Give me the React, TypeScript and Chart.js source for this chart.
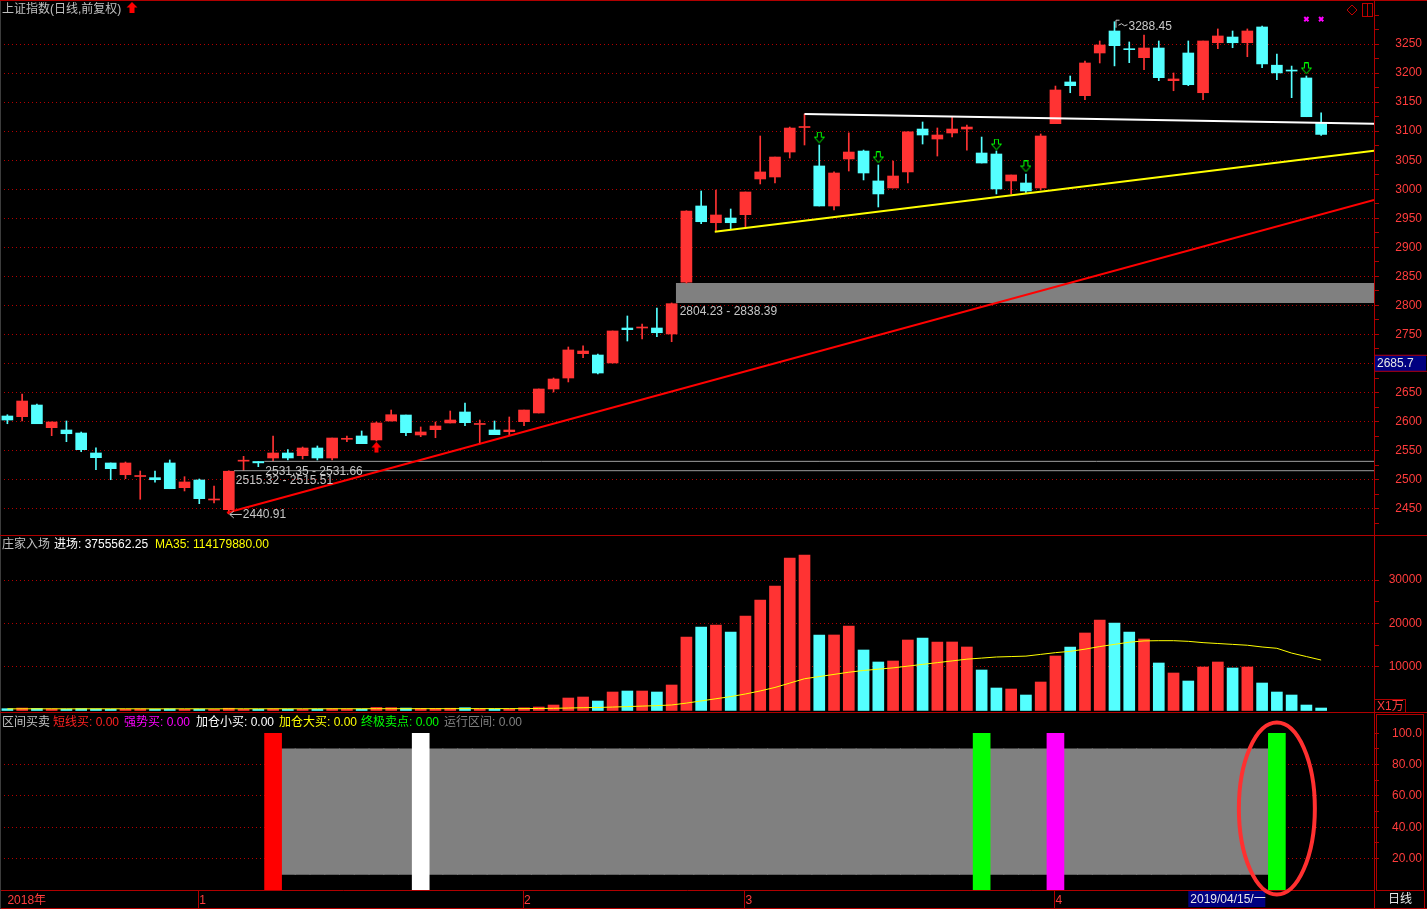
import React, { useEffect, useRef } from 'react';
import { Chart, registerables } from 'chart.js';

Chart.register(...registerables);

// ---------------- data ----------------
const opens = [2609.6,2608.4,2628.5,2589.5,2585.5,2580.3,2545.9,2528.7,2508.5,2505.4,
  2503.4,2528.7,2486.2,2499.4,2465.0,2448.3,2531.8,2531.3,2537.3,2545.9,
  2541.3,2554.5,2537.3,2569.5,2575.2,2568.3,2601.0,2611.3,2576.9,2586.0,
  2597.6,2616.5,2595.0,2585.5,2582.6,2599.8,2614.8,2656.1,2675.0,2716.9,
  2714.6,2700.9,2761.1,2761.1,2761.1,2750.8,2840.0,2971.2,2942.4,2950.5,
  2956.2,3017.7,3021.1,3064.1,3106.3,3040.1,2971.2,3052.1,3065.8,3014.3,
  3002.2,3029.8,3103.7,3086.5,3096.9,3103.7,3062.4,3060.7,3014.3,3010.8,
  3002.2,3112.9,3184.7,3161.1,3234.6,3272.5,3242.0,3226.5,3243.2,3186.9,
  3234.6,3166.2,3252.3,3262.1,3252.3,3279.4,3213.6,3205.2,3191.6,3114.6];
const closes = [2602.7,2635.4,2596.3,2599.3,2579.1,2551.6,2537.8,2518.9,2528.7,2506.3,
  2499.9,2484.4,2496.0,2467.2,2466.2,2514.5,2533.0,2528.9,2545.9,2537.3,
  2554.5,2537.3,2571.7,2571.2,2561.9,2597.6,2611.8,2580.9,2582.1,2592.4,
  2602.7,2598.1,2595.8,2577.4,2585.5,2619.9,2656.1,2673.3,2723.3,2721.5,
  2683.6,2756.0,2758.2,2762.8,2753.0,2803.0,2962.6,2944.1,2955.7,2942.4,
  2995.3,3029.8,3055.5,3105.4,3107.2,2971.2,3028.0,3064.1,3028.0,2991.9,
  3022.8,3098.9,3093.4,3093.4,3103.7,3107.1,3045.2,3000.5,3024.6,2997.0,
  3091.7,3170.9,3178.3,3217.4,3248.4,3247.2,3240.3,3243.2,3192.1,3189.9,
  3180.0,3255.3,3263.9,3252.3,3272.5,3215.8,3200.3,3203.5,3124.9,3094.4];
const highs = [2611.8,2647.5,2630.3,2599.3,2601.0,2582.0,2555.0,2528.7,2530.4,2514.9,
  2514.9,2533.9,2505.1,2501.1,2489.1,2515.32,2540.2,2531.35,2575.2,2551.6,
  2556.2,2558.0,2571.7,2575.2,2583.8,2599.3,2619.9,2611.3,2590.7,2599.3,
  2618.2,2632.0,2602.7,2601.0,2607.9,2619.9,2656.1,2675.0,2728.4,2730.2,
  2716.4,2756.0,2781.8,2768.0,2795.6,2804.23,2963.0,2997.0,2998.7,2966.0,
  2995.3,3091.7,3055.5,3107.1,3129.6,3076.2,3029.8,3097.1,3067.5,3041.8,
  3048.7,3098.9,3115.8,3105.5,3124.4,3110.6,3089.9,3065.8,3024.6,3026.3,
  3095.2,3177.7,3195.0,3220.8,3255.3,3288.45,3253.6,3265.6,3255.3,3200.2,
  3255.3,3255.3,3276.0,3272.5,3276.0,3281.1,3232.9,3212.1,3195.0,3131.4];
const lows = [2596.3,2601.0,2596.3,2575.7,2565.4,2548.1,2517.1,2499.9,2501.7,2466.2,
  2495.5,2484.4,2480.5,2458.6,2459.8,2440.91,2515.51,2522.3,2531.66,2533.8,
  2535.6,2533.8,2533.8,2565.4,2561.9,2566.6,2601.0,2575.7,2574.0,2572.2,
  2597.6,2592.9,2561.4,2577.4,2577.4,2592.9,2614.8,2650.9,2668.2,2710.0,
  2681.9,2700.9,2738.7,2742.2,2746.1,2737.5,2838.39,2940.7,2926.9,2932.1,
  2932.1,3009.1,3010.8,3053.8,3076.2,2971.2,2964.4,3031.4,3016.0,2969.5,
  3002.2,3010.8,3077.9,3057.2,3089.9,3067.5,3045.2,2991.9,2991.9,2993.6,
  2998.7,3112.9,3166.2,3154.2,3217.4,3212.4,3217.9,3205.8,3186.9,3169.6,
  3178.3,3154.2,3242.0,3243.7,3228.2,3209.3,3188.6,3157.7,3124.9,3092.7];

const volumes = [420,560,480,380,350,440,380,300,330,360,
  300,380,290,330,280,520,280,300,380,320,
  300,330,420,360,340,700,650,560,480,500,
  520,640,420,380,360,620,800,1260,2870,3100,
  2180,4250,4480,4480,4250,5860,16900,19200,19660,18050,
  21730,25400,28620,35060,35750,17360,17360,19430,13910,11150,
  11380,16210,16670,15750,15750,14600,9310,5170,4940,3560,
  6550,12530,14600,17820,20810,20120,18050,16440,10920,8620,
  6780,10000,11150,9770,10000,6320,4250,3560,1260,570];
const volMA35 = [380,385,390,388,384,386,390,392,388,385,
  383,386,388,390,387,392,395,394,396,398,
  397,399,402,404,405,410,414,416,418,420,
  423,428,430,432,434,438,460,500,570,640,
  690,790,900,1010,1120,1270,1700,2200,2700,3200,
  3800,4500,5300,6300,7300,7800,8300,8800,9200,9500,
  9800,10200,10600,11000,11400,11800,12050,12300,12400,12500,
  12900,13300,13600,14100,14700,15200,15700,16000,16050,16050,
  15900,15600,15400,15200,15000,14600,14300,13200,12400,11600];

const monthTickIdx = [0, 13, 35, 50, 71];
const monthTickLabels = ['2018年', '1', '2', '3', '4'];

const priceTicks = [2425,2450,2475,2500,2525,2550,2575,2600,2625,2650,2675,2700,2725,2750,2775,2800,2825,2850,2875,2900,2925,2950,2975,3000,3025,3050,3075,3100,3125,3150,3175,3200,3225,3250,3275,3300];
const priceGrid = [2450,2500,2550,2600,2650,2700,2750,2800,2850,2900,2950,3000,3050,3100,3150,3200,3250];
const priceLabels = [2450,2500,2550,2600,2650,2750,2800,2850,2900,2950,3000,3050,3100,3150,3200,3250];

const volTicks = [10000, 15000, 20000, 25000, 30000];
const volLabels = [10000, 20000, 30000];

const indTicks = [20, 30, 40, 50, 60, 70, 80, 90, 100];
const indGrid = [20, 40, 60, 80];
const indLabelValues = [100, 80, 60, 40, 20];
const indLabelTexts = ['100.0', '80.00', '60.00', '40.00', '20.00'];

const signalIdx = [18, 28, 66, 71, 86];
const signalColors = ['#ff0000', '#ffffff', '#00ff00', '#ff00ff', '#00ff00'];
const signalRange = [0, 100];
const rangeIdxStart = 19;
const rangeIdxEnd = 85;
const rangeBand = [10, 90];

const downArrowIdx = [55, 59, 67, 69, 88];
const downArrowPrice = [3088.9, 3054.7, 3077.0, 3039.2, 3208.0];
const upArrowIdx = [25];
const upArrowPrice = [2556.0];
const markIdx = [88, 89];
const markPrice = [3293, 3293];

const redTrendX = [14.87, 92.58];
const redTrendY = [2443.1, 2981.5];
const yellowTrendX = [47.92, 92.58];
const yellowTrendY = [2926.9, 3066.4];
const whiteTrendX = [54, 92.58];
const whiteTrendY = [3129.6, 3112.9];

const gapLineStartX = [15.35, 17.4];
const gapLineValue = [2515.4, 2531.5];
const gapLineText = ['2515.32 - 2515.51', '2531.35 - 2531.66'];
const gapLabelIdx = [15, 17];
const gapBoxStartX = 45.28;
const gapBoxLow = 2804.23;
const gapBoxHigh = 2838.39;
const gapBoxText = '2804.23 - 2838.39';
const gapBoxLabelIdx = 45;

const highIdx = 75;
const lowIdx = 15;
const cursorPrice = 2685.7;
const cursorIdx = 80;
const cursorDate = '2019/04/15/一';
const circledIdx = 86;

// ---------------- style ----------------
const W = 1427;
const X_MIN = -0.5;
const X_MAX = 92.58;
const FONT_FAMILY = '"Liberation Sans", "Noto Sans CJK SC", sans-serif';
const FRAME = '#b00000';
const GRID = '#b40000';
const LABEL = '#ff3c3c';
const UP = '#ff3333';
const DOWN = '#54ffff';
const TEXT_GRAY = '#c8c8c8';

const idx = opens.map((_, i) => i);
const candleColors = idx.map((i) => (closes[i] >= opens[i] ? UP : DOWN));

function makeArrow(color: string, down: boolean, filled: boolean) {
  const c = document.createElement('canvas');
  c.width = 11;
  c.height = 12;
  const g = c.getContext('2d')!;
  const pts = [[3.5, 0.5], [7.5, 0.5], [7.5, 5.5], [10.5, 5.5], [5.5, 11.2], [0.5, 5.5], [3.5, 5.5]];
  g.beginPath();
  pts.forEach(([px, py], k) => {
    const yy = down ? py : 12 - py;
    if (k) g.lineTo(px, yy); else g.moveTo(px, yy);
  });
  g.closePath();
  if (filled) { g.fillStyle = color; g.fill(); } else { g.strokeStyle = color; g.lineWidth = 1; g.stroke(); }
  return c;
}

function xAxis(show: boolean) {
  return {
    type: 'linear', min: X_MIN, max: X_MAX, offset: false, display: show,
    afterBuildTicks: (s: any) => { s.ticks = monthTickIdx.map((v) => ({ value: v })); },
    afterFit: (s: any) => { if (show) s.height = 18; s.paddingLeft = 0; s.paddingRight = 0; },
    grid: { display: false, drawTicks: false, offset: false },
    border: { display: show, color: FRAME, width: 1 },
    ticks: {
      align: 'start', padding: 3, color: LABEL, font: { family: FONT_FAMILY, size: 12 },
      autoSkip: false, maxRotation: 0, minRotation: 0,
      callback: (v: any) => { const k = monthTickIdx.indexOf(v); return k >= 0 ? monthTickLabels[k] : ''; },
    },
  };
}

function yAxis(min: number, max: number, ticks: number[], gridVals: number[], labelFn: (v: number) => string) {
  return {
    type: 'linear', position: 'right', min, max,
    afterBuildTicks: (s: any) => { s.ticks = ticks.map((v) => ({ value: v })); },
    afterFit: (s: any) => { s.width = 48; s.paddingTop = 0; s.paddingBottom = 0; },
    grid: {
      color: (c: any) => (c.tick && gridVals.includes(c.tick.value) ? GRID : 'rgba(0,0,0,0)'),
      lineWidth: 1, drawTicks: true, tickLength: 5, tickColor: FRAME, tickWidth: 1,
    },
    border: { display: true, color: FRAME, width: 1, dash: [1, 3] },
    ticks: {
      color: LABEL, font: { family: FONT_FAMILY, size: 12 }, padding: 4, crossAlign: 'far', autoSkip: false,
      callback: (v: any) => labelFn(v),
    },
  };
}

const baseOptions = (padTop: number, padBottom: number) => ({
  responsive: false,
  animation: false,
  events: [],
  layout: { autoPadding: false, padding: { top: padTop, bottom: padBottom, left: 0, right: 5 } },
  plugins: { legend: { display: false }, tooltip: { enabled: false } },
});

const lineDs = (xs: number[], ys: number[], color: string, width: number, order: number, extra: any = {}) => ({
  type: 'line',
  data: xs.map((x, k) => ({ x, y: ys[k] })),
  borderColor: color, borderWidth: width, pointRadius: 0, tension: 0, order, ...extra,
});

// ---------------- plugins ----------------
const priceDecor = {
  id: 'priceDecor',
  afterDraw(chart: any) {
    const { ctx } = chart;
    const x = chart.scales.x;
    const y = chart.scales.y;
    ctx.save();
    ctx.fillStyle = FRAME;
    ctx.fillRect(0, 0, W, 1);
    ctx.fillRect(0, 535, W, 1);
    ctx.fillRect(1374, 0, 1, 2);
    ctx.fillStyle = '#3c3c3c';
    ctx.fillRect(0, 1, 1, 534);

    // title arrow
    ctx.fillStyle = '#ff0000';
    ctx.beginPath();
    ctx.moveTo(132, 2); ctx.lineTo(137.5, 7.5); ctx.lineTo(134.5, 7.5); ctx.lineTo(134.5, 13);
    ctx.lineTo(129.5, 13); ctx.lineTo(129.5, 7.5); ctx.lineTo(126.5, 7.5); ctx.closePath();
    ctx.fill();

    // top-right icons
    ctx.strokeStyle = '#c00000';
    ctx.lineWidth = 1;
    ctx.beginPath();
    ctx.moveTo(1352, 5); ctx.lineTo(1357, 10); ctx.lineTo(1352, 15); ctx.lineTo(1347, 10); ctx.closePath();
    ctx.stroke();
    ctx.strokeRect(1362.5, 3.5, 10, 13);
    ctx.beginPath(); ctx.moveTo(1367.5, 3.5); ctx.lineTo(1367.5, 16.5); ctx.stroke();

    ctx.font = `12px ${FONT_FAMILY}`;
    ctx.textBaseline = 'middle';
    ctx.textAlign = 'left';
    ctx.fillStyle = TEXT_GRAY;
    ctx.strokeStyle = TEXT_GRAY;

    // highest label
    const hx = x.getPixelForValue(highIdx);
    const hy = y.getPixelForValue(highs[highIdx]);
    ctx.beginPath();
    ctx.moveTo(hx + 1.5, hy + 6); ctx.lineTo(hx + 1.5, hy - 1.5); ctx.lineTo(hx + 5, hy - 1.5);
    ctx.moveTo(hx + 4, hy + 3.5); ctx.lineTo(hx + 7, hy + 2); ctx.lineTo(hx + 10, hy + 4); ctx.lineTo(hx + 13, hy + 3);
    ctx.stroke();
    ctx.fillText(highs[highIdx].toFixed(2), hx + 14, hy + 4.5);

    // lowest label
    const lx = x.getPixelForValue(lowIdx);
    const ly = y.getPixelForValue(lows[lowIdx]);
    ctx.beginPath();
    ctx.moveTo(lx + 13, ly + 0.5); ctx.lineTo(lx + 1, ly + 0.5);
    ctx.moveTo(lx + 5, ly - 3); ctx.lineTo(lx + 1, ly + 0.5); ctx.lineTo(lx + 5, ly + 4);
    ctx.stroke();
    ctx.fillText(lows[lowIdx].toFixed(2), lx + 14, ly + 1);

    // gap labels
    gapLineText.forEach((t, k) => {
      ctx.fillText(t, x.getPixelForValue(gapLabelIdx[k]) + 7, y.getPixelForValue(gapLineValue[k]) + 10);
    });
    ctx.fillText(gapBoxText, x.getPixelForValue(gapBoxLabelIdx) + 8, y.getPixelForValue(gapBoxLow) + 9);

    // cursor price box
    const cy = y.getPixelForValue(cursorPrice);
    ctx.fillStyle = '#000080';
    ctx.fillRect(1375, cy - 17, 51, 17);
    ctx.fillStyle = FRAME;
    ctx.fillRect(1375, cy - 17, 52, 1);
    ctx.fillRect(1375, cy - 1, 52, 1);
    ctx.fillStyle = '#e8e8e8';
    ctx.fillText(String(cursorPrice), 1377, cy - 8.5);
    ctx.restore();
  },
};

const volDecor = {
  id: 'volDecor',
  afterDraw(chart: any) {
    const { ctx } = chart;
    ctx.save();
    ctx.fillStyle = FRAME;
    ctx.fillRect(0, 176, W, 1);
    ctx.fillRect(1374, 176, 1, 1);
    ctx.fillStyle = '#3c3c3c';
    ctx.fillRect(0, 0, 1, 176);
    ctx.strokeStyle = FRAME;
    ctx.lineWidth = 1;
    ctx.strokeRect(1374.5, 163.5, 31, 13);
    ctx.font = `12px ${FONT_FAMILY}`;
    ctx.textBaseline = 'middle';
    ctx.fillStyle = LABEL;
    ctx.fillText('X1万', 1377, 170.5);
    ctx.restore();
  },
};

const indDecor = {
  id: 'indDecor',
  afterDraw(chart: any) {
    const { ctx } = chart;
    const x = chart.scales.x;
    const y = chart.scales.y;
    ctx.save();
    ctx.fillStyle = FRAME;
    ctx.fillRect(0, 195, W, 1);
    ctx.fillRect(1374, 0, 1, 196);
    ctx.fillRect(1424, 177, 1, 19);
    monthTickIdx.slice(1).forEach((v) => {
      const px = Math.round(x.getPixelForValue(v)) - 1;
      ctx.fillRect(px, 177, 1, 18);
    });
    ctx.fillStyle = '#3c3c3c';
    ctx.fillRect(0, 0, 1, 196);
    ctx.strokeStyle = FRAME;
    ctx.lineWidth = 1;
    ctx.strokeRect(1376.5, 1.5, 47, 176);

    // cursor date box
    const dx = x.getPixelForValue(cursorIdx);
    ctx.fillStyle = '#000080';
    ctx.fillRect(dx, 178, 77, 16);
    ctx.font = `12px ${FONT_FAMILY}`;
    ctx.textBaseline = 'middle';
    ctx.fillStyle = '#e8e8e8';
    ctx.fillText(cursorDate, dx + 2, 186.5);
    ctx.fillText('日线', 1388, 186.5);

    // highlight ellipse
    const ex = x.getPixelForValue(circledIdx);
    const ey = y.getPixelForValue(52);
    ctx.strokeStyle = '#ff3030';
    ctx.lineWidth = 4;
    ctx.beginPath();
    ctx.ellipse(ex, ey, 38, 86, 0, 0, Math.PI * 2);
    ctx.stroke();
    ctx.restore();
  },
};

export default function App() {
  const r1 = useRef<HTMLCanvasElement>(null);
  const r2 = useRef<HTMLCanvasElement>(null);
  const r3 = useRef<HTMLCanvasElement>(null);

  useEffect(() => {
    Chart.defaults.font.family = FONT_FAMILY;
    Chart.defaults.font.size = 12;
    const greenDown = makeArrow('#00ff00', true, false);
    const redUp = makeArrow('#ff0000', false, true);

    const priceDatasets: any[] = [
      { type: 'line', showLine: false, data: markIdx.map((v, k) => ({ x: v, y: markPrice[k] })), pointStyle: 'crossRot', pointRadius: 3, borderColor: '#ff00ff', pointBorderWidth: 2, order: 0 },
      { type: 'line', showLine: false, data: downArrowIdx.map((v, k) => ({ x: v, y: downArrowPrice[k] })), pointStyle: greenDown, pointRadius: 6, order: 0 },
      { type: 'line', showLine: false, data: upArrowIdx.map((v, k) => ({ x: v, y: upArrowPrice[k] })), pointStyle: redUp, pointRadius: 6, order: 0 },
      lineDs(redTrendX, redTrendY, '#ff0000', 2, 1),
      lineDs(yellowTrendX, yellowTrendY, '#ffff00', 2, 1),
      lineDs(whiteTrendX, whiteTrendY, '#ffffff', 2, 1),
      lineDs([gapLineStartX[0], X_MAX], [gapLineValue[0], gapLineValue[0]], '#9c9c9c', 1, 1),
      lineDs([gapLineStartX[1], X_MAX], [gapLineValue[1], gapLineValue[1]], '#9c9c9c', 1, 1),
      {
        type: 'bar', data: idx.map((i) => ({ x: i, y: [opens[i], closes[i]] })),
        backgroundColor: candleColors, barThickness: 11, grouped: false, minBarLength: 1, borderWidth: 0, order: 2,
      },
      {
        type: 'bar', data: idx.map((i) => ({ x: i, y: [lows[i], highs[i]] })),
        backgroundColor: candleColors, barThickness: 1, grouped: false, minBarLength: 1, borderWidth: 0, order: 3,
      },
      lineDs([gapBoxStartX, X_MAX], [gapBoxHigh, gapBoxHigh], 'rgba(0,0,0,0)', 0, 4, { fill: '+1', backgroundColor: '#808080' }),
      lineDs([gapBoxStartX, X_MAX], [gapBoxLow, gapBoxLow], 'rgba(0,0,0,0)', 0, 4),
    ];

    const c1 = new Chart(r1.current!, {
      type: 'bar',
      data: { datasets: priceDatasets },
      options: {
        ...baseOptions(2, 1),
        scales: {
          x: xAxis(false),
          y: yAxis(2404.7, 3322.4, priceTicks, priceGrid, (v) => (priceLabels.includes(v) ? String(v) : '')),
        },
      } as any,
      plugins: [priceDecor],
    } as any);

    const c2 = new Chart(r2.current!, {
      type: 'bar',
      data: {
        datasets: [
          lineDs(idx, volMA35, '#ffff00', 1, 0),
          { type: 'bar', data: idx.map((i) => ({ x: i, y: volumes[i] })), backgroundColor: candleColors, barThickness: 11, grouped: false, borderWidth: 0, order: 1 },
        ] as any,
      },
      options: {
        ...baseOptions(0, 1),
        scales: {
          x: xAxis(false),
          y: yAxis(-345, 40115, volTicks, volLabels, (v) => (volLabels.includes(v) ? String(v) : '')),
        },
      } as any,
      plugins: [volDecor],
    } as any);

    const rangeIdx: number[] = [];
    for (let i = rangeIdxStart; i <= rangeIdxEnd; i++) rangeIdx.push(i);

    const c3 = new Chart(r3.current!, {
      type: 'bar',
      data: {
        datasets: [
          { type: 'bar', data: signalIdx.map((v) => ({ x: v, y: signalRange })), backgroundColor: signalColors, barThickness: 17, grouped: false, borderWidth: 0, order: 0 },
          { type: 'bar', data: rangeIdx.map((v) => ({ x: v, y: rangeBand })), backgroundColor: '#808080', barThickness: 15.2, grouped: false, borderWidth: 0, order: 1 },
        ] as any,
      },
      options: {
        ...baseOptions(1, 1),
        scales: {
          x: xAxis(true),
          y: yAxis(0, 112.3, indTicks, indGrid, (v) => { const k = indLabelValues.indexOf(v); return k >= 0 ? indLabelTexts[k] : ''; }),
        },
      } as any,
      plugins: [indDecor],
    } as any);

    return () => { c1.destroy(); c2.destroy(); c3.destroy(); };
  }, []);

  const T = (left: number, top: number, color: string, text: string) => (
    <span key={`${left}-${top}`} style={{ position: 'absolute', left, top, color, whiteSpace: 'pre', lineHeight: '14px' }}>{text}</span>
  );

  return (
    <div style={{ position: 'fixed', left: 0, top: 0, width: W, height: 909, background: '#000', overflow: 'hidden', fontFamily: FONT_FAMILY, fontSize: 12 }}>
      <canvas ref={r1} width={W} height={536} style={{ position: 'absolute', left: 0, top: 0, width: W, height: 536 }} />
      <canvas ref={r2} width={W} height={177} style={{ position: 'absolute', left: 0, top: 536, width: W, height: 177 }} />
      <canvas ref={r3} width={W} height={196} style={{ position: 'absolute', left: 0, top: 713, width: W, height: 196 }} />
      {T(2, 2, '#c0c0c0', '上证指数(日线,前复权)')}
      {T(2, 537, '#c0c0c0', '庄家入场')}
      {T(54, 537, '#ffffff', '进场: 3755562.25')}
      {T(155, 537, '#ffff00', 'MA35: 114179880.00')}
      {T(2, 715, '#c0c0c0', '区间买卖')}
      {T(53, 715, '#ff2020', '短线买: 0.00')}
      {T(124, 715, '#ff00ff', '强势买: 0.00')}
      {T(196, 715, '#ffffff', '加仓小买: 0.00')}
      {T(279, 715, '#ffff00', '加仓大买: 0.00')}
      {T(361, 715, '#00ff00', '终极卖点: 0.00')}
      {T(444, 715, '#808080', '运行区间: 0.00')}
    </div>
  );
}
